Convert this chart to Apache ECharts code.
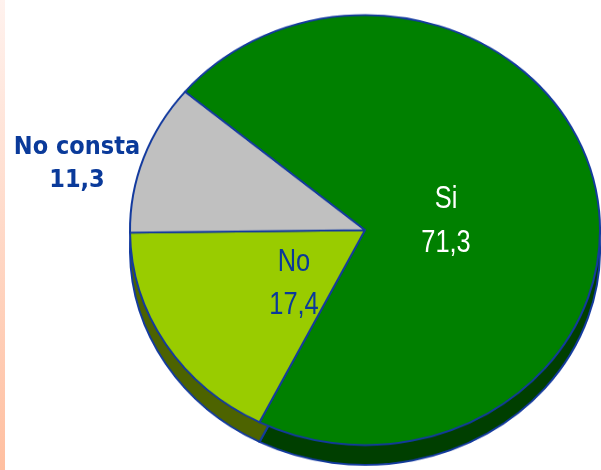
<!DOCTYPE html>
<html><head><meta charset="utf-8">
<script src="https://cdn.jsdelivr.net/npm/echarts@6/dist/echarts.min.js"></script>
<style>
html,body{margin:0;padding:0;background:#fff;overflow:hidden}
#strip{position:absolute;left:0;top:0;width:5px;height:470px;background:linear-gradient(#fff2ee,#ffbfa0)}
#pieWrap{position:absolute;left:0;top:0;width:601px;height:514px;transform:scaleY(0.915);transform-origin:0 0}
#pie{width:601px;height:514px}
#labels{position:absolute;left:0;top:0;width:601px;height:470px}
</style></head>
<body>
<div id="strip"></div>
<div id="pieWrap"><div id="pie"></div></div>
<div id="labels"></div>
<script>
var categories = ['Si', 'No', 'No consta'];
var values = [71.3, 17.4, 11.3];
var topColors = ['#008000', '#99cc00', '#c0c0c0'];
var sideColors = ['#003f00', '#4d6300', '#808080'];

function fmt(v){ return String(v).replace('.', ','); }

var data = categories.map(function(c,i){ return {name:c, value:values[i], itemStyle:{color:topColors[i]}}; });
var side = categories.map(function(c,i){ return {name:c, value:values[i], itemStyle:{color:sideColors[i]}}; });

var pie = echarts.init(document.getElementById('pie'), null, {renderer:'canvas'});
pie.setOption({
  animation:false,
  series:[
    {type:'pie', center:[365, 273], radius:[0, 235], startAngle:140, clockwise:true,
     silent:true, label:{show:false}, labelLine:{show:false},
     itemStyle:{borderColor:'#133a9e', borderWidth:2}, data:side},
    {type:'pie', center:[365, 251.4], radius:[0, 235], startAngle:140, clockwise:true,
     silent:true, label:{show:false}, labelLine:{show:false},
     itemStyle:{borderColor:'#133a9e', borderWidth:2}, data:data}
  ]
});

var lab = echarts.init(document.getElementById('labels'), null, {renderer:'canvas'});
var sans = '"Liberation Sans", Arial, sans-serif';
lab.setOption({
  animation:false,
  graphic:[
    {type:'text', x:446, y:221.5, scaleX:0.82, style:{text:categories[0]+'\n'+fmt(values[0]), fill:'#ffffff', font:'31px '+sans, lineHeight:44, align:'center', verticalAlign:'middle'}},
    {type:'text', x:294, y:283.5, scaleX:0.82, style:{text:categories[1]+'\n'+fmt(values[1]), fill:'#0a3a9a', font:'31px '+sans, lineHeight:43, align:'center', verticalAlign:'middle'}},
    {type:'text', x:77, y:164, scaleX:0.9, style:{text:categories[2]+'\n'+fmt(values[2]), fill:'#0a3a9a', font:'bold 25px "DejaVu Sans", sans-serif', lineHeight:33.5, align:'center', verticalAlign:'middle'}}
  ]
});
</script>
</body></html>
